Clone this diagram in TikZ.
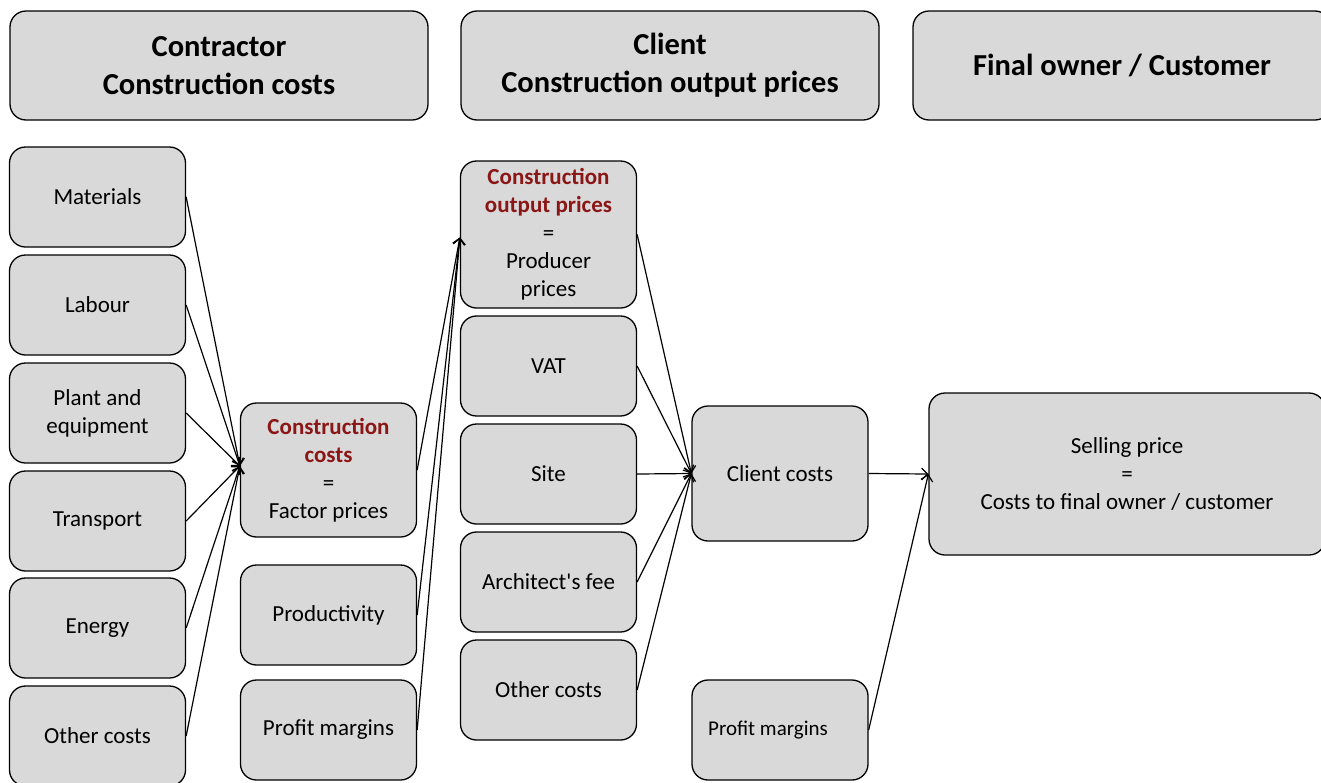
\documentclass[tikz,border=0pt]{standalone}
\usepackage{fontspec}
\setmainfont{Carlito}
\usetikzlibrary{arrows.meta}
\definecolor{boxfill}{RGB}{217,217,217}
\definecolor{dred}{RGB}{139,22,22}
\tikzset{
  box/.style={draw=black, fill=boxfill, line width=1.3pt, rounded corners=16pt, align=center,
    inner sep=2pt, font=\fontsize{23}{28}\selectfont, minimum width=176pt, minimum height=100pt},
  hdr/.style={box, minimum width=418pt, minimum height=109pt, font=\fontsize{30.5}{38}\selectfont\bfseries},
  conn/.style={line width=1.2pt, -{Straight Barb[length=6pt,width=12pt,line width=1.2pt]}}
}
\begin{document}
\begin{tikzpicture}[x=1pt,y=-1pt]
\clip (0,0) rectangle (1321,782);
\fill[white] (0,0) rectangle (1321,782);
% headers
\node[hdr] (h1) at (219,65.5) {Contractor\\Construction costs};
\node[hdr] (h2) at (670,65.5) {Client\\Construction output prices};
\node[hdr] (h3) at (1122,65.5) {Final owner / Customer};
% left column
\node[box] (mat) at (97.5,197) {Materials};
\node[box] (lab) at (97.5,305) {Labour};
\node[box] (pla) at (97.5,413) {Plant and\\equipment};
\node[box] (tra) at (97.5,521) {Transport};
\node[box] (ene) at (97.5,628) {Energy};
\node[box] (oth) at (97.5,736) {Other costs};
% second column
\node[box, minimum height=134pt] (cc) at (328.5,470) {\textcolor{dred}{\bfseries Construction}\\\textcolor{dred}{\bfseries costs}\\=\\Factor prices};
\node[box] (prod) at (328.5,615) {Productivity};
\node[box] (pm1) at (328.5,730) {Profit margins};
% third column
\node[box, minimum height=147pt] (cop) at (548.5,234.5) {\textcolor{dred}{\bfseries Construction}\\\textcolor{dred}{\bfseries output prices}\\=\\Producer\\prices};
\node[box] (vat) at (548.5,366) {VAT};
\node[box] (site) at (548.5,474) {Site};
\node[box] (arch) at (548.5,582) {Architect\textquotesingle s fee};
\node[box] (oc2) at (548.5,690) {Other costs};
% fourth column
\node[box, minimum height=135pt] (cl) at (780,473.5) {Client costs};
\node[box, font=\fontsize{21}{26}\selectfont] (pm2) at (780,730) {Profit margins\hspace*{24pt}};
% selling price
\node[box, minimum width=396pt, minimum height=162pt] (sp) at (1127,474) {Selling price\\=\\Costs to final owner / customer};
% connectors
\foreach \s in {mat,lab,pla,tra,ene,oth} \draw[conn] (\s.east) -- ([yshift=4pt]cc.west);
\foreach \s in {cc,prod,pm1} \draw[conn] (\s.east) -- ([yshift=-3pt]cop.west);
\foreach \s in {cop,vat,site,arch,oc2} \draw[conn] (\s.east) -- (cl.west);
\draw[conn] (cl.east) -- (sp.west);
\draw[conn] (pm2.east) -- (sp.west);
\end{tikzpicture}
\end{document}
